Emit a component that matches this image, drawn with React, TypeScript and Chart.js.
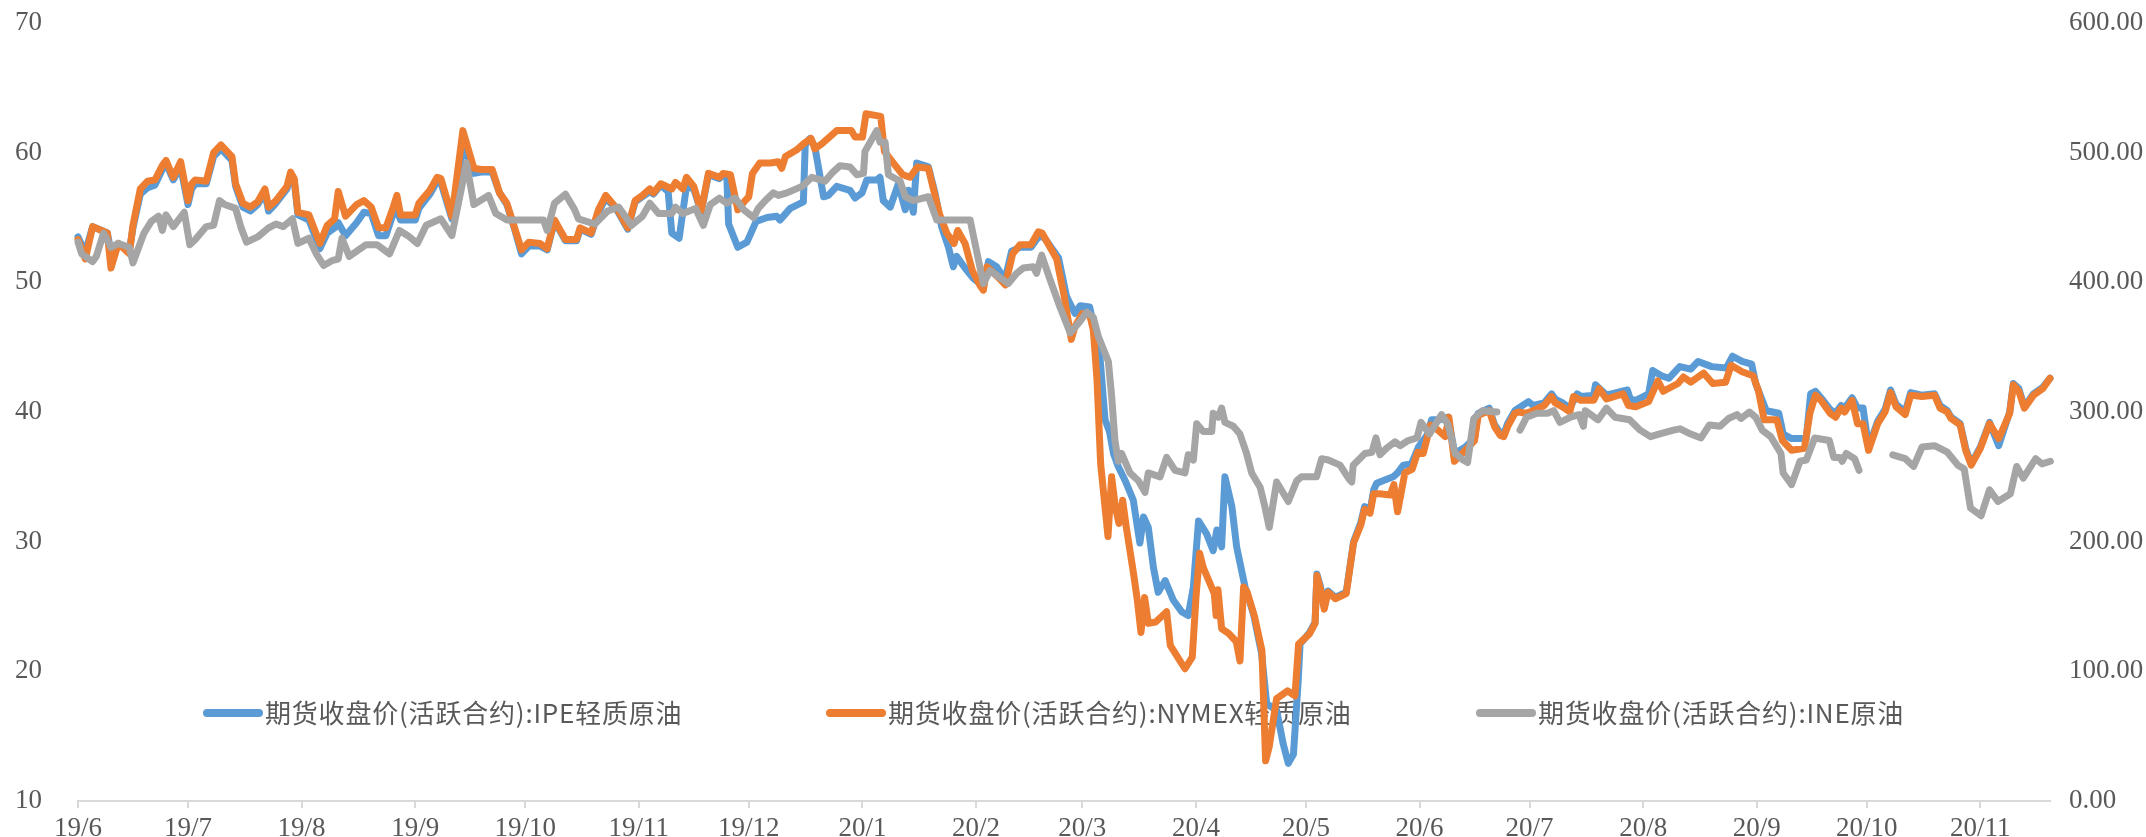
import React, { useEffect, useRef } from 'react';
import { Chart, registerables } from 'chart.js';

Chart.register(...registerables);

// x values are calendar days counted from 2019-06-01
const monthTickDays = [0, 30, 61, 92, 122, 153, 183, 214, 245, 274, 305, 335, 366, 396, 427, 458, 488, 519];
const monthTickLabels = ['19/6', '19/7', '19/8', '19/9', '19/10', '19/11', '19/12', '20/1', '20/2', '20/3', '20/4', '20/5', '20/6', '20/7', '20/8', '20/9', '20/10', '20/11'];

const seriesNames = [
  '期货收盘价(活跃合约):IPE轻质原油',
  '期货收盘价(活跃合约):NYMEX轻质原油',
  '期货收盘价(活跃合约):INE原油',
];

const ipeDays = [
  0, 2, 4, 8, 9, 11, 14, 15, 17, 19,
  21, 23, 24, 26, 28, 30, 31, 32, 35, 37,
  39, 42, 43, 45, 47, 49, 51, 52, 54, 57,
  58, 59, 60, 63, 66, 68, 70, 71, 73, 76,
  78, 80, 82, 84, 86, 87, 88, 92, 93, 96,
  98, 99, 102, 105, 108, 110, 113, 115, 117, 119,
  121, 123, 126, 128, 130, 133, 136, 137, 140, 142,
  144, 147, 150, 152, 154, 156, 157, 159, 161, 162,
  164, 166, 168, 170, 172, 175, 176, 177, 177.5, 180,
  182.5, 185, 188, 190.6, 191.5, 194.3, 197.9, 198.4, 199.7, 201,
  203.4, 204.7, 207, 210.6, 212, 213.9, 215.2, 217.9, 218.8, 219.7,
  221.6, 223.8, 225.7, 226.6, 227.9, 228.8, 232, 233.8, 235.6, 237.5,
  238.8, 239.7, 242, 244.3, 247, 248.4, 250.6, 252.9, 254.7, 257,
  260, 262, 263.5, 267.5, 269.7, 272, 273.4, 276, 278.8, 280.2,
  281.4, 282.5, 283.8, 285.7, 287.9, 289.7, 290.7, 292, 293.4, 294.7,
  296.6, 298.8, 301.1, 302.9, 304.3, 305.7, 307.9, 309.7, 310.7, 312,
  312.9, 314.8, 316.1, 318.4, 320.7, 322.9, 324.3, 327, 328.8, 330.2,
  331.6, 332.9, 333.4, 336, 337.5, 338, 339, 340, 341, 343,
  346, 348, 350, 351, 352.5, 353.5, 354.3, 358.8, 360, 361.6,
  363.8, 365.7, 368, 369.3, 371.6, 373.8, 375.6, 378.5, 381, 382,
  385, 386.5, 388, 389, 390, 392, 393, 395.7, 397, 400,
  402, 403, 405, 407, 409, 410, 413.5, 414, 417, 422.7,
  423.5, 425, 428.5, 429.6, 432, 434, 437, 440, 442, 445.7,
  449.7, 451.4, 454, 456.6, 457.7, 460.6, 464, 465.2, 467.5, 471.5,
  472.7, 474, 475.5, 478, 479.5, 481, 482, 484, 485.5, 487,
  488.5, 491, 493, 494.5, 496, 498.5, 500, 503, 506.5, 508,
  510, 511, 513.5, 515, 516.5, 519, 521.5, 524, 527, 528,
  529.5, 531, 533.5, 536, 538,
];
const ipeValues = [
  53.5, 52.3, 54.3, 53.8, 52.4, 53.0, 52.4, 54.2, 56.8, 57.3,
  57.5, 58.7, 59.2, 57.9, 58.9, 56.0, 57.2, 57.6, 57.6, 59.7,
  60.3, 59.4, 57.4, 55.8, 55.5, 56.0, 56.9, 55.5, 56.1, 57.2,
  58.2, 57.8, 55.2, 54.8, 52.6, 53.8, 54.2, 54.6, 53.6, 54.6,
  55.4, 55.3, 53.6, 53.6, 55.3, 55.6, 54.8, 54.8, 55.7, 56.8,
  57.8, 57.7, 54.9, 60.6, 58.4, 58.5, 58.5, 56.9, 56.0, 54.2,
  52.2, 52.8, 52.8, 52.5, 54.7, 53.2, 53.2, 54.1, 53.7, 55.4,
  56.5, 55.6, 54.1, 56.2, 56.6, 57.0, 56.8, 57.5, 57.0, 53.8,
  53.4, 57.4, 57.2, 55.4, 58.3, 58.0, 58.3, 58.2, 54.5, 52.7,
  53.1, 54.7, 55.0, 55.1, 54.8, 55.7, 56.2, 60.6, 61.1, 60.5,
  56.6, 56.7, 57.4, 57.1, 56.5, 56.9, 57.9, 57.9, 58.1, 56.3,
  55.8, 57.6, 55.6, 57.1, 55.4, 59.2, 58.9, 56.9, 54.3, 52.7,
  51.2, 52.0, 51.1, 50.3, 49.7, 51.6, 51.2, 50.2, 52.4, 52.7,
  52.7, 53.5, 53.5, 51.9, 48.9, 47.6, 48.2, 48.1, 44.3, 39.4,
  38.5, 36.8, 35.8, 34.7, 33.2, 29.9, 31.9, 31.1, 28.0, 26.1,
  27.0, 25.5, 24.6, 24.3, 26.5, 31.6, 30.6, 29.3, 30.9, 29.6,
  35.0, 32.7, 29.6, 26.5, 24.4, 21.4, 17.5, 17.0, 14.4, 12.9,
  13.6, 19.3, 22.1, 23.0, 23.8, 27.5, 26.5, 25.0, 26.2, 25.7,
  26.1, 30.0, 31.5, 32.7, 32.4, 34.0, 34.5, 35.0, 35.3, 35.9,
  36.0, 37.3, 38.2, 39.4, 39.4, 39.6, 36.8, 37.3, 38.0, 39.9,
  40.3, 39.0, 38.4, 38.3, 39.1, 40.1, 40.3, 40.8, 40.5, 40.7,
  41.4, 41.0, 40.7, 40.3, 41.4, 41.2, 41.3, 42.1, 41.3, 41.7,
  41.0, 40.9, 41.4, 43.2, 42.8, 42.6, 43.5, 43.3, 43.9, 43.5,
  43.4, 44.3, 43.9, 43.7, 42.2, 40.1, 39.9, 38.3, 37.95, 37.95,
  41.4, 41.6, 41.1, 40.2, 39.9, 40.5, 40.3, 41.1, 40.3, 40.3,
  37.3, 39.3, 40.2, 41.7, 40.6, 40.0, 41.5, 41.3, 41.4, 40.5,
  40.1, 39.6, 39.1, 37.2, 36.0, 37.3, 39.2, 37.4, 40.0, 42.2,
  41.8, 40.4, 41.4, 41.9, 42.6,
];

const nymexDays = [
  0, 2, 4, 8, 9, 11, 14, 15, 17, 19,
  21, 23, 24, 26, 28, 30, 31, 32, 35, 37,
  39, 42, 43, 45, 47, 49, 51, 52, 54, 57,
  58, 59, 60, 63, 66, 68, 70, 71, 73, 76,
  78, 80, 82, 84, 86, 87, 88, 92, 93, 96,
  98, 99, 102, 105, 108, 110, 113, 115, 117, 119,
  121, 123, 126, 128, 130, 133, 136, 137, 140, 142,
  144, 147, 150, 152, 154, 156, 157, 159, 162, 163,
  165, 166, 168, 170, 172, 175, 176, 178, 180, 182,
  183, 184, 186, 189, 191, 192, 193, 196, 198, 200,
  201, 203, 205, 207, 211, 212, 214, 215, 219, 220,
  223, 225, 227, 229, 232, 235, 237, 239, 240, 242,
  244, 246, 247, 248, 251, 253, 255, 257, 260, 262,
  263, 267, 269, 271, 272, 274, 276, 277, 278, 279,
  281, 282, 283, 284, 285, 286, 288, 289, 290, 291,
  292, 294, 297, 298, 300, 302, 304, 305, 306, 307,
  310, 310.5, 311, 312, 314, 316, 317, 318, 319, 321,
  323, 324, 325, 327, 330, 332, 333, 336, 337.5, 338,
  339, 340, 341, 343, 346, 348, 350, 351, 352.5, 353.5,
  355, 358, 359, 360, 362, 364, 365.5, 367, 369, 371,
  373, 374, 375.5, 378.5, 381, 382, 385, 386.5, 388, 389,
  390, 392, 393, 395, 397, 400, 402, 403, 405, 407,
  408, 410, 413.5, 415, 417, 421.5, 423, 425, 428.5, 431,
  432.5, 436.5, 438, 440, 443.5, 446, 449.5, 451, 454, 457,
  458.5, 460, 463.5, 465, 467.5, 471, 472.5, 474, 475.5, 478,
  479.5, 481, 482, 484, 485.5, 487, 488.5, 491, 493, 494.5,
  496, 498.5, 500, 503, 506.5, 508, 510, 511, 513.5, 515,
  516.5, 519, 521.5, 524, 527, 528, 529.5, 531, 533.5, 536,
  538,
];
const nymexValues = [
  53.3, 51.8, 54.3, 53.8, 51.1, 53.0, 52.2, 54.4, 57.2, 57.8,
  57.9, 59.0, 59.4, 58.1, 59.3, 56.3, 57.6, 57.9, 57.8, 60.0,
  60.6, 59.7, 57.6, 56.1, 55.8, 56.2, 57.2, 55.8, 56.3, 57.4,
  58.5, 58.0, 55.4, 55.2, 53.0, 54.4, 54.9, 57.0, 55.1, 56.0,
  56.3, 55.8, 54.2, 54.2, 55.8, 56.7, 55.2, 55.2, 56.1, 57.1,
  58.1, 58.0, 55.1, 61.7, 58.8, 58.7, 58.7, 56.9, 56.1, 54.3,
  52.5, 53.1, 53.0, 52.6, 54.8, 53.3, 53.3, 54.2, 53.8, 55.6,
  56.7, 55.7, 54.2, 56.3, 56.7, 57.2, 56.9, 57.6, 57.2, 57.7,
  57.2, 58.1, 57.4, 55.5, 58.4, 58.1, 58.4, 58.3, 55.6, 56.3,
  56.6, 58.4, 59.2, 59.2, 59.3, 58.8, 59.7, 60.2, 60.7, 61.1,
  60.3, 60.7, 61.2, 61.7, 61.7, 61.2, 61.2, 63.0, 62.8, 60.1,
  59.0, 58.3, 58.1, 58.9, 58.8, 55.3, 53.8, 53.0, 54.0, 53.0,
  50.9, 49.8, 49.4, 51.2, 50.4, 49.8, 52.2, 52.9, 52.9, 53.9,
  53.8, 51.8, 49.0, 45.6, 46.6, 47.6, 47.5, 46.3, 42.5, 36.0,
  30.4, 35.0, 32.7, 31.4, 33.2, 31.1, 27.5, 25.5, 23.0, 25.7,
  23.7, 23.8, 24.6, 22.0, 21.1, 20.2, 21.1, 25.7, 29.1, 28.0,
  26.0, 24.3, 26.3, 23.3, 22.9, 22.3, 20.8, 26.5, 26.1, 24.2,
  21.6, 13.1, 14.2, 17.9, 18.5, 18.1, 22.1, 22.9, 23.7, 27.4,
  26.3, 24.8, 26.1, 25.6, 26.0, 29.9, 31.3, 32.5, 32.2, 33.7,
  33.7, 33.6, 34.4, 32.3, 35.3, 35.6, 36.9, 36.8, 39.0, 38.6,
  38.1, 39.6, 36.2, 37.05, 37.8, 39.75, 40.1, 38.85, 38.2, 38.1,
  38.85, 39.9, 40.0, 39.9, 40.1, 40.5, 41.2, 40.7, 40.4, 40.0,
  41.2, 40.9, 40.9, 41.8, 41.0, 41.4, 40.5, 40.4, 40.8, 42.4,
  41.6, 42.2, 42.7, 42.3, 43.0, 42.2, 42.3, 43.6, 43.1, 42.8,
  41.6, 39.4, 39.4, 37.8, 37.05, 37.2, 39.9, 41.3, 40.9, 39.9,
  39.6, 40.3, 40.0, 40.9, 39.1, 39.1, 37.05, 39.1, 40.0, 41.5,
  40.4, 39.8, 41.3, 41.2, 41.3, 40.3, 40.0, 39.5, 39.0, 37.05,
  35.9, 37.2, 39.1, 37.95, 39.9, 42.1, 41.6, 40.3, 41.3, 41.8,
  42.6,
];

const ineDays = [
  0, 1, 4, 5, 7, 9, 11, 14, 15, 18,
  20, 22, 23, 24, 26, 29, 30.5, 32, 35, 37,
  38.6, 40, 43, 44.5, 46, 49, 52, 54, 56, 58.5,
  60, 63, 65, 67, 69.5, 71, 72, 74, 78.6, 81.6,
  85, 87.7, 90, 92.6, 95, 99, 102, 106, 108, 112,
  114, 117, 127, 128, 130, 133, 135.5, 136.5, 141, 144.5,
  147.5, 151, 154, 156, 158.4, 162, 163, 165, 168.5, 170.6,
  172.5, 175, 177, 179.3, 181.6, 184.3, 185.6, 187.5, 189.7, 191.1,
  193.4, 197.5, 200.2, 203.8, 205.6, 207.9, 210.6, 212.5, 214.3, 214.7,
  217.9, 218.8, 220.2, 221.1, 224.3, 225.7, 227.9, 232, 234.3, 243.4,
  247, 248.8, 253.8, 256.1, 257.9, 260.6, 261.5, 262.9, 265.2, 267.9,
  270.7, 273.4, 275.2, 277, 278.4, 281.1, 282, 282.9, 283.8, 284.7,
  287, 289.3, 291.1, 292, 295.2, 297, 299.3, 302, 302.9, 304.3,
  305.2, 307, 309.3, 309.7, 311.1, 312, 312.9, 315.2, 317, 318.8,
  320.2, 322.5, 323.8, 325, 327, 330.2, 332.5, 333.8, 337.9, 339.3,
  341.1, 344.3, 346.6, 347.5, 347.9, 351.1, 353, 354.1, 355.2, 357,
  359.3, 360.7, 362.9, 365.3, 366.4, 368.7, 372, 373.8, 375.7, 377.9,
  379.1, 380.8, 383.1, 387.1, 390, 393.4, 395.2, 398, 400.9, 402.6,
  404.3, 407.2, 409.5, 410.7, 411.2, 414.7, 417, 419.3, 423.3, 426.2,
  429, 431.3, 435.3, 437.1, 440, 442.8, 445.1, 448, 450.3, 452.6,
  453.7, 456, 457.7, 459.5, 461.8, 464.6, 465.2, 467.5, 469.8, 471.5,
  473.8, 477.8, 479, 480.7, 481.3, 482.4, 484.7, 485.9, 490, 495.1,
  498.5, 500.8, 503.1, 506.5, 510, 512.9, 514.6, 516.3, 519.2, 521.5,
  523.8, 527.2, 528.9, 530.7, 534.1, 535.8, 538.1,
];
const ineValues = [
  431, 422, 416, 420, 438, 427, 430, 427, 415, 438,
  447, 451, 440, 452, 443, 454, 429, 433, 443, 444,
  463, 460, 457, 442, 431, 435, 442, 445, 443, 449,
  430, 434, 422, 413, 417, 418, 434, 420, 429, 429,
  422, 440, 436, 430, 444, 449, 436, 492, 460, 467,
  453, 448, 448, 440, 461, 468, 456, 449, 445, 455,
  458, 444, 451, 461, 453, 453, 458, 453, 457, 444,
  460, 465, 461, 465, 456, 450, 457, 463, 469, 467,
  469, 474, 481, 478, 484, 490, 489, 483, 484, 501,
  517, 508, 508, 483, 478, 466, 463, 466, 448, 448,
  399, 409, 399, 407, 411, 412, 407, 421, 402, 381,
  361, 370, 377, 373, 358, 339, 312, 278, 262, 268,
  253, 247, 238, 253, 250, 265, 255, 253, 267, 263,
  291, 285, 285, 299, 296, 303, 292, 289, 283, 268,
  253, 242, 227, 211, 246, 231, 247, 250, 250, 264,
  263, 259, 249, 246, 259, 268, 269, 280, 267, 272,
  277, 274, 278, 280, 292, 283, 298, 290, 268, 263,
  261, 295, 301, 300, null, 286, 296, 299, 299, 301,
  292, 296, 298, 289, 301, 294, 303, 296, 294, 286,
  281, 283, 286, 287, 283, 280, 290, 289, 295, 298,
  295, 300, 296, 286, 281, 268, 253, 244, 262, 263,
  280, 278, 265, 265, 262, 268, 264, 255, null, 267,
  264, 258, 273, 274, 269, 259, 256, 226, 220, 240,
  231, 237, 258, 249, 264, 260, 262,
];

const COLORS = { ipe: '#5B9BD5', nymex: '#ED7D31', ine: '#A5A5A5' };
const TEXT = '#595959';

const toPoints = (xs: number[], ys: (number | null)[]) => xs.map((x, i) => ({ x, y: ys[i] }));

const legendItems = [
  { label: seriesNames[0], color: COLORS.ipe, x1: 207, x2: 259 },
  { label: seriesNames[1], color: COLORS.nymex, x1: 830, x2: 882 },
  { label: seriesNames[2], color: COLORS.ine, x1: 1480, x2: 1532 },
];
const LEGEND_Y = 713;

const insideLegend = {
  id: 'insideLegend',
  beforeDatasetsDraw(chart: any) {
    const ctx = chart.ctx;
    ctx.save();
    legendItems.forEach((it) => {
      ctx.strokeStyle = it.color;
      ctx.lineWidth = 8;
      ctx.lineCap = 'round';
      ctx.beginPath();
      ctx.moveTo(it.x1, LEGEND_Y);
      ctx.lineTo(it.x2, LEGEND_Y);
      ctx.stroke();
      ctx.fillStyle = TEXT;
      ctx.font = '26px "Noto Sans CJK SC"';
      ctx.textBaseline = 'middle';
      ctx.textAlign = 'left';
      try { (ctx as any).letterSpacing = '0.8px'; } catch (e) {}
      ctx.fillText(it.label, it.x2 + 6, LEGEND_Y);
    });
    ctx.restore();
  },
};

export default function App() {
  const canvasRef = useRef<HTMLCanvasElement | null>(null);

  useEffect(() => {
    if (!canvasRef.current) return;
    const tickFont = { family: '"Liberation Serif", serif', size: 27 };
    const lineCommon = {
      borderWidth: 7,
      pointRadius: 0,
      tension: 0,
      borderJoinStyle: 'round' as const,
      borderCapStyle: 'round' as const,
      fill: false,
      clip: false as any,
    };
    const chart = new Chart(canvasRef.current, {
      type: 'line',
      data: {
        datasets: [
          {
            ...lineCommon,
            label: seriesNames[0],
            data: toPoints(ipeDays, ipeValues),
            borderColor: COLORS.ipe,
            backgroundColor: COLORS.ipe,
            yAxisID: 'y',
            order: 3,
          },
          {
            ...lineCommon,
            label: seriesNames[1],
            data: toPoints(nymexDays, nymexValues),
            borderColor: COLORS.nymex,
            backgroundColor: COLORS.nymex,
            yAxisID: 'y',
            order: 2,
          },
          {
            ...lineCommon,
            label: seriesNames[2],
            data: toPoints(ineDays, ineValues),
            borderColor: COLORS.ine,
            backgroundColor: COLORS.ine,
            yAxisID: 'y2',
            spanGaps: false,
            order: 1,
          },
        ],
      },
      options: {
        responsive: false,
        animation: false,
        events: [],
        layout: { padding: { top: 23, left: 0, right: 0, bottom: 0 } },
        plugins: {
          legend: { display: false },
          tooltip: { enabled: false },
        },
        scales: {
          x: {
            type: 'linear',
            min: 0,
            max: 538,
            afterBuildTicks: (scale: any) => {
              scale.ticks = monthTickDays.map((v) => ({ value: v }));
            },
            afterFit: (scale: any) => {
              scale.height = 36;
            },
            ticks: {
              autoSkip: false,
              maxRotation: 0,
              minRotation: 0,
              padding: 5,
              color: TEXT,
              font: tickFont,
              callback: (value: any) => {
                const idx = monthTickDays.indexOf(Number(value));
                return idx >= 0 ? monthTickLabels[idx] : '';
              },
            },
            grid: {
              display: true,
              drawOnChartArea: false,
              drawTicks: true,
              tickLength: 7,
              color: '#D9D9D9',
              lineWidth: 2,
            },
            border: { display: true, color: '#D9D9D9', width: 2 },
          },
          y: {
            position: 'left',
            min: 10,
            max: 70,
            afterFit: (scale: any) => {
              scale.width = 78;
            },
            ticks: { stepSize: 10, padding: 0, color: TEXT, font: tickFont },
            grid: {
              display: true,
              drawOnChartArea: false,
              drawTicks: true,
              tickLength: 36,
              color: 'rgba(0,0,0,0)',
            },
            border: { display: false },
          },
          y2: {
            position: 'right',
            min: 0,
            max: 600,
            afterFit: (scale: any) => {
              scale.width = 96;
            },
            ticks: {
              stepSize: 100,
              padding: 0,
              color: TEXT,
              font: tickFont,
              callback: (v: any) => Number(v).toFixed(2),
            },
            grid: {
              display: true,
              drawOnChartArea: false,
              drawTicks: true,
              tickLength: 19,
              color: 'rgba(0,0,0,0)',
            },
            border: { display: false },
          },
        },
      } as any,
      plugins: [insideLegend],
    });
    return () => chart.destroy();
  }, []);

  return (
    <div style={{ position: 'absolute', left: 0, top: 0, width: 2146, height: 837, background: '#fff' }}>
      <canvas ref={canvasRef} width={2146} height={837} style={{ display: 'block', width: 2146, height: 837 }} />
    </div>
  );
}
